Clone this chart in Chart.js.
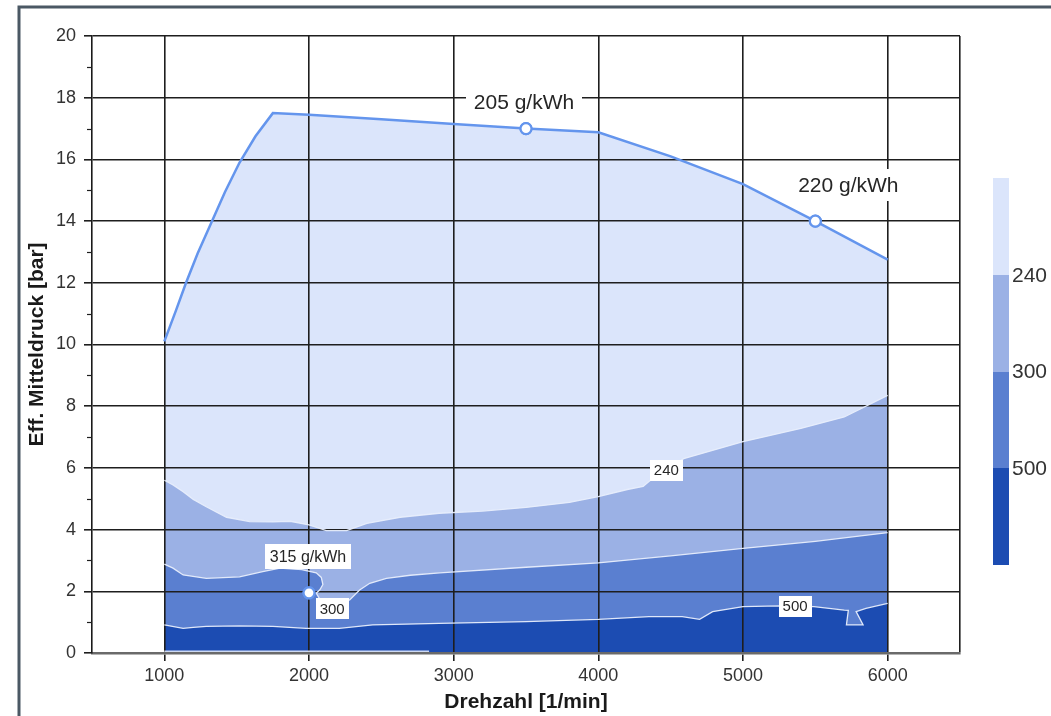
<!DOCTYPE html>
<html>
<head>
<meta charset="utf-8">
<script src="https://cdn.jsdelivr.net/npm/chart.js@4.4.1/dist/chart.umd.min.js"></script>
<style>
  html, body { margin: 0; padding: 0; background: #ffffff; }
  canvas { display: block; }
</style>
</head>
<body>
<canvas id="kennfeld" width="1051" height="716"></canvas>
<script>
// Verbrauchskennfeld: spezifischer Kraftstoffverbrauch über Drehzahl und effektivem Mitteldruck

// Drehzahl-Teilung der x-Achse [1/min]
const rpmTicks = [1000, 2000, 3000, 4000, 5000, 6000];

// Volllastlinie [Drehzahl, Mitteldruck in bar]
const fullLoad = [
  [1000, 10.1], [1080, 11.1], [1150, 12.0], [1230, 12.95], [1320, 13.9],
  [1420, 14.95], [1520, 15.9], [1630, 16.75], [1750, 17.5], [2000, 17.45],
  [2500, 17.3], [3000, 17.15], [3500, 17.0], [4000, 16.88], [4500, 16.1],
  [5000, 15.2], [5500, 14.0], [6000, 12.75]
];

// Isolinie 240 g/kWh
const iso240 = [
  [1000, 5.6], [1060, 5.45], [1130, 5.23], [1200, 4.98], [1290, 4.74],
  [1430, 4.4], [1590, 4.26], [1750, 4.25], [1870, 4.27], [2000, 4.15],
  [2120, 3.97], [2260, 3.97], [2400, 4.2], [2630, 4.4], [2900, 4.53],
  [3200, 4.6], [3500, 4.72], [3800, 4.88], [4000, 5.07], [4200, 5.3],
  [4310, 5.4], [4360, 5.6], [4590, 6.3], [5000, 6.85], [5400, 7.28],
  [5700, 7.65], [6000, 8.35]
];

// Isolinie 300 g/kWh
const iso300 = [
  [1000, 2.88], [1060, 2.75], [1130, 2.53], [1290, 2.42], [1520, 2.47],
  [1680, 2.64], [1800, 2.75], [1950, 2.7], [2050, 2.6], [2085, 2.45],
  [2096, 2.22], [2075, 2.05], [2050, 1.94], [2080, 1.7], [2180, 1.55],
  [2281, 1.72], [2350, 2.04], [2420, 2.26], [2535, 2.42], [2700, 2.52],
  [2904, 2.6], [3500, 2.78], [4000, 2.92], [4500, 3.15], [5000, 3.39],
  [5500, 3.62], [6000, 3.9]
];

// Isolinie 500 g/kWh
const iso500 = [
  [1000, 0.91], [1130, 0.8], [1200, 0.83], [1290, 0.86], [1520, 0.88],
  [1750, 0.86], [1980, 0.8], [2210, 0.8], [2440, 0.91], [2900, 0.96],
  [3500, 1.02], [4000, 1.09], [4350, 1.18], [4580, 1.18], [4700, 1.09],
  [4790, 1.34], [5000, 1.5], [5250, 1.53], [5490, 1.5], [5700, 1.39],
  [5728, 1.38], [5715, 0.91], [5830, 0.91], [5782, 1.34], [5850, 1.45],
  [6000, 1.61]
];

// helle Kante am unteren Rand des Kennfelds
const floorEdge = [[1000, 0.06], [2830, 0.06]];

// Betriebspunkte mit Verbrauchsangabe
const pointValues = [[3500, 17.0], [5500, 14.0], [2000, 1.95]];
const pointTexts = ['205 g/kWh', '220 g/kWh', '315 g/kWh'];

// Beschriftung der Isolinien [Text, Drehzahl, Mitteldruck]
const isoLabels = [['240', 4470, 5.93], ['300', 2160, 1.43], ['500', 5360, 1.52]];

// Stufen der Farbskala
const scaleLevels = ['240', '300', '500'];

const BAND_COLORS = ['#dbe5fb', '#9bb1e5', '#5a7fd0', '#1c4cb2'];
const LINE_BLUE = '#6495ed';
const ISO_LINE = 'rgba(232,238,252,0.95)';
const GRID = '#1e1e1e';
const FONT = '"Liberation Sans", Arial, sans-serif';

const xy = arr => arr.map(([x, y]) => ({ x, y }));

function isoDataset(points, color) {
  return {
    data: xy(points),
    borderColor: ISO_LINE,
    borderWidth: 1.3,
    backgroundColor: color,
    fill: 'origin',
    pointRadius: 0,
    tension: 0
  };
}

// Beschriftungen, Farbskala, Nebenteilstriche und Rahmen
const overlay = {
  id: 'overlay',
  afterDatasetsDraw(chart) {
    const { ctx, scales: { x, y } } = chart;
    const box = (text, cx, cy, size, padX, h) => {
      ctx.font = size + 'px ' + FONT;
      const w = ctx.measureText(text).width + padX * 2;
      ctx.fillStyle = '#ffffff';
      ctx.fillRect(Math.round(cx - w / 2), Math.round(cy - h / 2), Math.round(w), h);
      ctx.fillStyle = '#262626';
      ctx.textAlign = 'center';
      ctx.textBaseline = 'middle';
      ctx.fillText(text, cx, cy + 1);
    };
    ctx.save();
    // Isolinien-Werte
    isoLabels.forEach(([t, r, p]) => {
      box(t, x.getPixelForValue(r), y.getPixelForValue(p), 15, 4, 21);
    });
    // Betriebspunkte
    const offsets = [[-2, -26, 21, 8, 26], [33, -36, 21, 6, 32], [-1, -36, 16, 5, 25]];
    pointValues.forEach(([r, p], i) => {
      const [dx, dy, size, padX, h] = offsets[i];
      box(pointTexts[i], x.getPixelForValue(r) + dx, y.getPixelForValue(p) + dy, size, padX, h);
    });
    ctx.restore();
    // Marker über den Beschriftungen neu zeichnen
    chart.getDatasetMeta(0).data.forEach(el => el.draw(ctx));
  },
  afterDraw(chart) {
    const { ctx, scales: { y }, chartArea } = chart;
    ctx.save();
    // Nebenteilstriche der y-Achse
    ctx.strokeStyle = GRID;
    ctx.lineWidth = 1.2;
    for (let v = 1; v < 20; v += 2) {
      const py = Math.round(y.getPixelForValue(v)) + 0.5;
      ctx.beginPath();
      ctx.moveTo(chartArea.left - 5, py);
      ctx.lineTo(chartArea.left, py);
      ctx.stroke();
    }
    // Farbskala
    const barX = 993, barW = 16, top = 178, step = 96.75;
    BAND_COLORS.forEach((c, i) => {
      ctx.fillStyle = c;
      ctx.fillRect(barX, Math.round(top + i * step), barW, Math.ceil(step));
    });
    ctx.fillStyle = '#333333';
    ctx.font = '21px ' + FONT;
    ctx.textAlign = 'left';
    ctx.textBaseline = 'middle';
    scaleLevels.forEach((t, i) => {
      ctx.fillText(t, 1012, top + (i + 1) * step + 1);
    });
    // äußerer Rahmen
    ctx.strokeStyle = '#4b5864';
    ctx.lineWidth = 3;
    ctx.beginPath();
    ctx.moveTo(19, 716);
    ctx.lineTo(19, 7);
    ctx.lineTo(1051, 7);
    ctx.stroke();
    ctx.restore();
  }
};

new Chart(document.getElementById('kennfeld'), {
  type: 'line',
  data: {
    datasets: [
      {
        data: xy(pointValues),
        showLine: false,
        pointRadius: 5.5,
        pointBackgroundColor: '#ffffff',
        pointBorderColor: LINE_BLUE,
        pointBorderWidth: 2.2,
        fill: false
      },
      {
        data: xy(floorEdge),
        borderColor: 'rgba(225,233,250,0.9)',
        borderWidth: 1.5,
        pointRadius: 0,
        fill: false
      },
      isoDataset(iso500, BAND_COLORS[3]),
      isoDataset(iso300, BAND_COLORS[2]),
      isoDataset(iso240, BAND_COLORS[1]),
      {
        data: xy(fullLoad),
        borderColor: LINE_BLUE,
        borderWidth: 2.5,
        backgroundColor: BAND_COLORS[0],
        fill: 'origin',
        pointRadius: 0,
        tension: 0
      }
    ]
  },
  options: {
    responsive: false,
    animation: false,
    events: [],
    layout: { padding: { left: 0, top: 36, right: 91, bottom: 0 } },
    plugins: {
      legend: { display: false },
      tooltip: { enabled: false },
      filler: { drawTime: 'beforeDraw' }
    },
    scales: {
      x: {
        type: 'linear',
        min: 500,
        max: 6500,
        afterBuildTicks: s => { s.ticks = rpmTicks.concat([6500]).map(v => ({ value: v })); },
        afterFit: s => { s.height = 63; },
        ticks: {
          callback: v => (v === 6500 ? '' : String(v)),
          color: '#333333',
          font: { family: FONT, size: 18 },
          padding: 4,
          maxRotation: 0,
          autoSkip: false
        },
        grid: {
          color: GRID,
          lineWidth: 1.6,
          tickLength: 8,
          tickColor: c => (c.tick && c.tick.value === 6500 ? 'rgba(0,0,0,0)' : GRID)
        },
        border: { color: '#6a6a6a', width: 2.5 },
        title: {
          display: true,
          text: 'Drehzahl [1/min]',
          color: '#1a1a1a',
          font: { family: FONT, size: 21, weight: 'bold', lineHeight: 1.2 },
          padding: { top: 0, bottom: 1 }
        }
      },
      y: {
        type: 'linear',
        min: 0,
        max: 20,
        afterFit: s => { s.width = 92; },
        ticks: {
          stepSize: 2,
          color: '#333333',
          font: { family: FONT, size: 18 },
          padding: 8
        },
        grid: { color: GRID, lineWidth: 1.6, tickLength: 8, tickColor: GRID },
        border: { color: '#1a1a1a', width: 1.6 },
        title: {
          display: true,
          text: 'Eff. Mitteldruck [bar]',
          color: '#1a1a1a',
          font: { family: FONT, size: 21, weight: 'bold', lineHeight: 1.2 },
          padding: { top: 25, bottom: 0 }
        }
      }
    }
  },
  plugins: [overlay]
});
</script>
</body>
</html>
